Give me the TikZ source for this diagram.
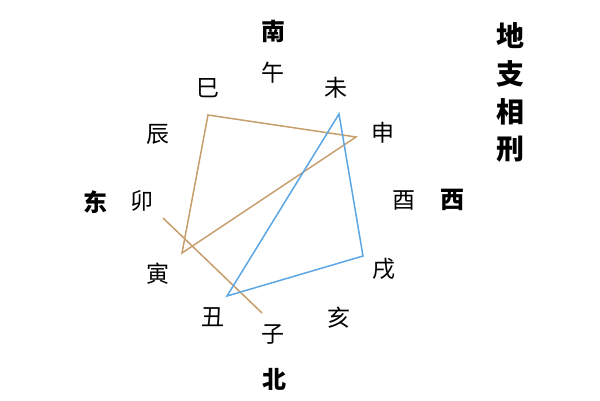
\documentclass[tikz,border=0pt]{standalone}
\usepackage{fontspec}
\newfontfamily\cjk{Noto Sans CJK SC}
\usepackage{tikz}
\usetikzlibrary{positioning}
\definecolor{xingtan}{RGB}{198,158,108}
\definecolor{xingsky}{RGB}{92,166,228}
\tikzset{
  zhi/.style={inner sep=0pt,font=\cjk\fontsize{23}{23}\selectfont},
  fang/.style={inner sep=0pt,font=\cjk\bfseries\fontsize{24}{24}\selectfont},
  xing/.style={inner sep=0pt,font=\cjk\bfseries\fontsize{28}{28}\selectfont},
  tanline/.style={draw=xingtan,line width=1.5pt,line join=miter},
  skyline/.style={draw=xingsky,line width=1.5pt,line join=miter}
}
\begin{document}
\begin{tikzpicture}[x=1pt,y=-1pt]
      \useasboundingbox (0,0) rectangle (600,400);
      \node(Nan) [fang] at (273,31) {南};
      \node(Dong) [fang] at (95,202) {东};
      \node(Xi) [fang] at (452,200) {西};
      \node(Bei) [fang] at (274,379) {北};

      \node(Wu) [zhi] at (273,73) {午};
      \node(Wei) [zhi] at (336,88) {未};
      \node(Shen) [zhi] at (383,133) {申};
      \node(You) [zhi] at (404,200) {酉};
      \node(Xu) [zhi] at (384,269) {戌};
      \node(Hai) [zhi] at (339,318) {亥};
      \node(Zi) [zhi] at (273,334) {子};
      \node(Chou) [zhi] at (213,317) {丑};
      \node(Yin) [zhi] at (158,274) {寅};
      \node(Mao) [zhi] at (142,201) {卯};
      \node(Chen) [zhi] at (158,134) {辰};
      \node(Si) [zhi] at (208,88) {巳};

      \node(T1) [xing] at (510,36) {地};
      \node(T2) [xing,below=11pt of T1] {支};
      \node(T3) [xing,below=11pt of T2] {相};
      \node(T4) [xing,below=11pt of T3] {刑};

      \coordinate(cSi) at (208,115);
      \coordinate(cShen) at (356,137);
      \coordinate(cYin) at (182,253);
      \coordinate(cMao) at (163,218);
      \coordinate(cZi) at (262,313);
      \coordinate(cWei) at (339,114);
      \coordinate(cXu) at (363,256);
      \coordinate(cChou) at (227,296);

      \draw[tanline] (cSi) -- (cShen) -- (cYin) -- cycle;
      \draw[tanline] (cMao) -- (cZi);
      \draw[skyline] (cWei) -- (cXu) -- (cChou) -- cycle;
    \end{tikzpicture}
\end{document}
